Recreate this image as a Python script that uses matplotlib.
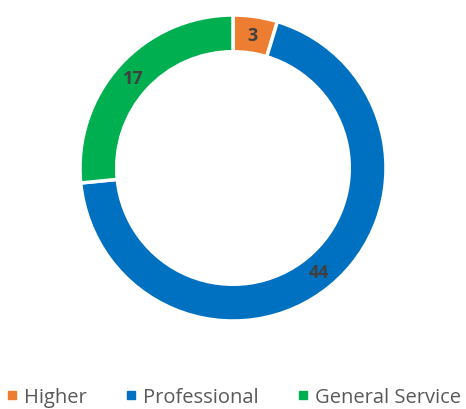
import matplotlib.pyplot as plt
from matplotlib.lines import Line2D

labels = ["Higher", "Professional", "General Service"]
values = [3, 44, 17]
colors = ["#ED7D31", "#0070C0", "#00B050"]

W, H = 466, 410
fig = plt.figure(figsize=(W / 100, H / 100), dpi=100)
cx, cy, r = 233, 169, 153
ax = fig.add_axes([(cx - r) / W, (H - cy - r) / H, 2 * r / W, 2 * r / H])

wedges, texts = ax.pie(values, colors=colors, startangle=90, counterclock=False,
                       radius=1, wedgeprops=dict(width=0.24, edgecolor="white", linewidth=2.5),
                       labels=[str(v) for v in values], labeldistance=0.88)
for t in texts:
    t.set_ha("center")
    t.set_va("center")
    t.set_fontsize(13)
    t.set_fontweight("bold")
    t.set_color("#404040")
    t.set_family("Open Sans")
ax.set_xlim(-1, 1)
ax.set_ylim(-1, 1)
ax.set_aspect("equal")
ax.axis("off")

handles = [Line2D([], [], marker="s", linestyle="none", color=c, markersize=6) for c in colors]
fig.legend(handles, labels, loc="center", bbox_to_anchor=(0.5, 1 - 398 / H), ncol=3,
           frameon=False, handletextpad=0.25, columnspacing=1.85,
           handlelength=0.7, labelcolor="#595959", prop={"family": "Open Sans", "size": 14.5})

fig.savefig("out.png", dpi=100)
